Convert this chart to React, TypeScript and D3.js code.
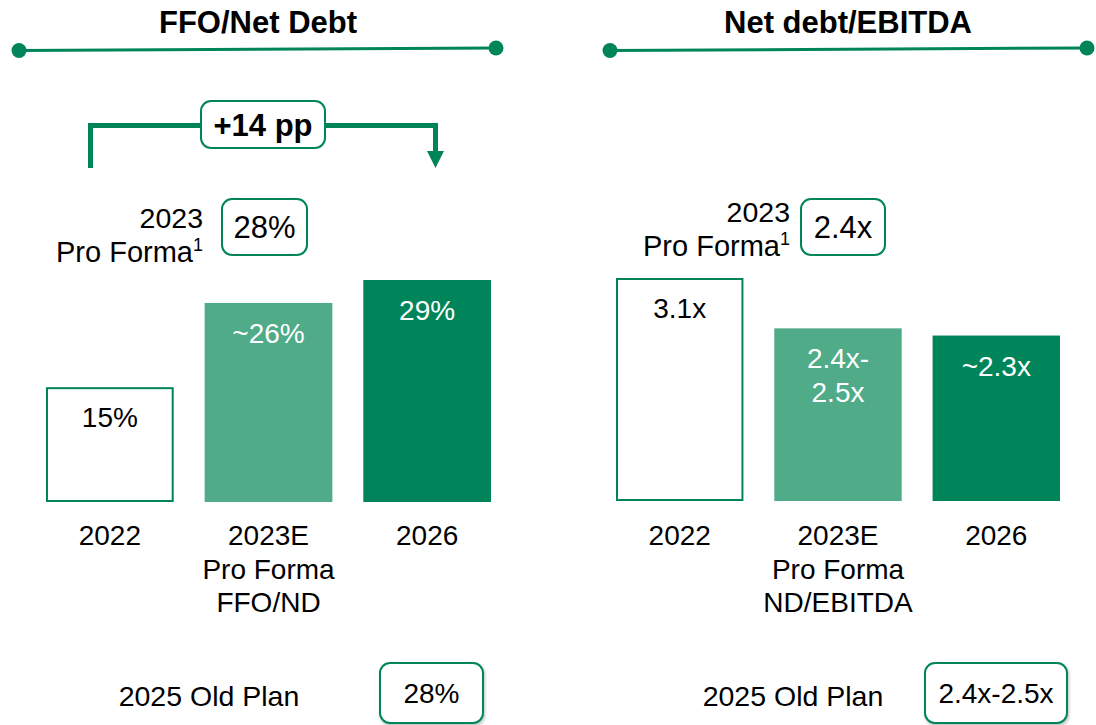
import React from "react";
import * as d3 from "d3";

// ---- Data ----
const ffoCategories: string[][] = [["2022"], ["2023E", "Pro Forma", "FFO/ND"], ["2026"]];
const ffoValues: number[] = [15, 26, 29];
const ffoLabels: string[][] = [["15%"], ["~26%"], ["29%"]];

const ndCategories: string[][] = [["2022"], ["2023E", "Pro Forma", "ND/EBITDA"], ["2026"]];
const ndValues: number[] = [3.1, 2.4, 2.3];
const ndLabels: string[][] = [["3.1x"], ["2.4x-", "2.5x"], ["~2.3x"]];

const titles = ["FFO/Net Debt", "Net debt/EBITDA"];
const proFormaValues = ["28%", "2.4x"];
const oldPlanValues = ["28%", "2.4x-2.5x"];
const changeLabel = "+14 pp";

const DARK = "#00855A";
const LIGHT = "#4FAB88";
const FONT = "'Liberation Sans', Arial, Helvetica, sans-serif";

type PanelProps = {
  title: string;
  categories: string[][];
  values: number[];
  labels: string[][];
  x0: number;
  x1: number;
  yTop: number;
  baseY: number;
  lineL: [number, number];
  lineR: [number, number];
  titleX: number;
  proFormaRight: number;
  proFormaBaseline: number;
  proBox: { x: number; y: number; w: number; h: number };
  proValue: string;
  oldPlanLabelX: number;
  oldBox: { x: number; y: number; w: number; h: number };
  oldValue: string;
};

function Panel(p: PanelProps) {
  const x = d3
    .scaleBand<number>()
    .domain(p.values.map((_, i) => i))
    .range([p.x0, p.x1])
    .paddingInner(0.195)
    .paddingOuter(0);
  const y = d3
    .scaleLinear()
    .domain([0, d3.max(p.values) as number])
    .range([p.baseY, p.yTop]);
  const fills = ["#ffffff", LIGHT, DARK];
  return (
    <g fontFamily={FONT}>
      <text x={p.titleX} y={33} textAnchor="middle" fontWeight="bold" fontSize={31} fill="#000">
        {p.title}
      </text>
      <line x1={p.lineL[0]} y1={p.lineL[1]} x2={p.lineR[0]} y2={p.lineR[1]} stroke={DARK} strokeWidth={3} />
      <circle cx={p.lineL[0]} cy={p.lineL[1]} r={7.5} fill={DARK} />
      <circle cx={p.lineR[0]} cy={p.lineR[1]} r={7.5} fill={DARK} />

      {/* Pro forma */}
      <text x={p.proFormaRight} y={p.proFormaBaseline} textAnchor="end" fontSize={28.5} fill="#000">
        2023
      </text>
      <text x={p.proFormaRight} y={p.proFormaBaseline + 34} textAnchor="end" fontSize={29} fill="#000">
        Pro Forma
        <tspan fontSize={18} dy={-11}>1</tspan>
      </text>
      <rect
        x={p.proBox.x}
        y={p.proBox.y}
        width={p.proBox.w}
        height={p.proBox.h}
        rx={10}
        fill="#fff"
        stroke={DARK}
        strokeWidth={2}
      />
      <text
        x={p.proBox.x + p.proBox.w / 2}
        y={p.proBox.y + p.proBox.h / 2 + 11}
        textAnchor="middle"
        fontSize={31}
        fill="#000"
      >
        {p.proValue}
      </text>

      {/* Bars */}
      {p.values.map((v, i) => {
        const bx = x(i) as number;
        const bw = x.bandwidth();
        const top = y(v);
        const isOutline = i === 0;
        return (
          <g key={i}>
            <rect
              x={bx + (isOutline ? 1 : 0)}
              y={top + (isOutline ? 1 : 0)}
              width={bw - (isOutline ? 2 : 0)}
              height={p.baseY - top - (isOutline ? 2 : 0)}
              fill={fills[i]}
              stroke={isOutline ? DARK : "none"}
              strokeWidth={2}
            />
            {p.labels[i].map((l, j) => (
              <text
                key={j}
                x={bx + bw / 2}
                y={top + 40 + j * 34}
                textAnchor="middle"
                fontSize={28}
                fill={isOutline ? "#000" : "#fff"}
              >
                {l}
              </text>
            ))}
            {p.categories[i].map((c, j) => (
              <text
                key={"c" + j}
                x={bx + bw / 2}
                y={545 + j * 33.5}
                textAnchor="middle"
                fontSize={28}
                fill="#000"
              >
                {c}
              </text>
            ))}
          </g>
        );
      })}

      {/* Old plan */}
      <text x={p.oldPlanLabelX} y={706} textAnchor="middle" fontSize={28.5} fill="#000">
        2025 Old Plan
      </text>
      <rect
        x={p.oldBox.x}
        y={p.oldBox.y}
        width={p.oldBox.w}
        height={p.oldBox.h}
        rx={10}
        fill="#fff"
        stroke={DARK}
        strokeWidth={2}
        filter="url(#shadow)"
      />
      <text
        x={p.oldBox.x + p.oldBox.w / 2}
        y={p.oldBox.y + p.oldBox.h / 2 + 10}
        textAnchor="middle"
        fontSize={28}
        fill="#000"
      >
        {p.oldValue}
      </text>
    </g>
  );
}

export default function App() {
  const bracketPath = d3.path();
  bracketPath.moveTo(90.5, 168);
  bracketPath.lineTo(90.5, 125.5);
  bracketPath.lineTo(435.5, 125.5);
  bracketPath.lineTo(435.5, 153);
  const arrow = d3.path();
  arrow.moveTo(427, 151);
  arrow.lineTo(444, 151);
  arrow.lineTo(435.5, 168);
  arrow.closePath();

  return (
    <div style={{ position: "fixed", left: 0, top: 0, width: 1096, height: 725, background: "#fff" }}>
      <svg width={1096} height={725} style={{ display: "block" }}>
        <defs>
          <filter id="shadow" x="-10%" y="-10%" width="130%" height="130%">
            <feDropShadow dx="1" dy="2" stdDeviation="1.5" floodColor="#000" floodOpacity="0.25" />
          </filter>
        </defs>
        <rect width={1096} height={725} fill="#fff" />
        <Panel
          title={titles[0]}
          categories={ffoCategories}
          values={ffoValues}
          labels={ffoLabels}
          x0={46}
          x1={491}
          yTop={280}
          baseY={502}
          lineL={[19, 50.5]}
          lineR={[496, 48]}
          titleX={258}
          proFormaRight={203}
          proFormaBaseline={228}
          proBox={{ x: 222, y: 199, w: 85, h: 56 }}
          proValue={proFormaValues[0]}
          oldPlanLabelX={209}
          oldBox={{ x: 380, y: 663, w: 103, h: 60 }}
          oldValue={oldPlanValues[0]}
        />
        <Panel
          title={titles[1]}
          categories={ndCategories}
          values={ndValues}
          labels={ndLabels}
          x0={616}
          x1={1060}
          yTop={278}
          baseY={501}
          lineL={[610, 50.5]}
          lineR={[1087, 48]}
          titleX={848}
          proFormaRight={790}
          proFormaBaseline={222}
          proBox={{ x: 801, y: 199, w: 84, h: 56 }}
          proValue={proFormaValues[1]}
          oldPlanLabelX={793}
          oldBox={{ x: 925, y: 663, w: 142, h: 60 }}
          oldValue={oldPlanValues[1]}
        />
        {/* Change bracket */}
        <path d={bracketPath.toString()} fill="none" stroke={DARK} strokeWidth={5} />
        <path d={arrow.toString()} fill={DARK} />
        <rect x={201} y={101} width={124} height={47} rx={10} fill="#fff" stroke={DARK} strokeWidth={2} />
        <text x={263} y={136} textAnchor="middle" fontFamily={FONT} fontWeight="bold" fontSize={31} fill="#000">
          {changeLabel}
        </text>
      </svg>
    </div>
  );
}
